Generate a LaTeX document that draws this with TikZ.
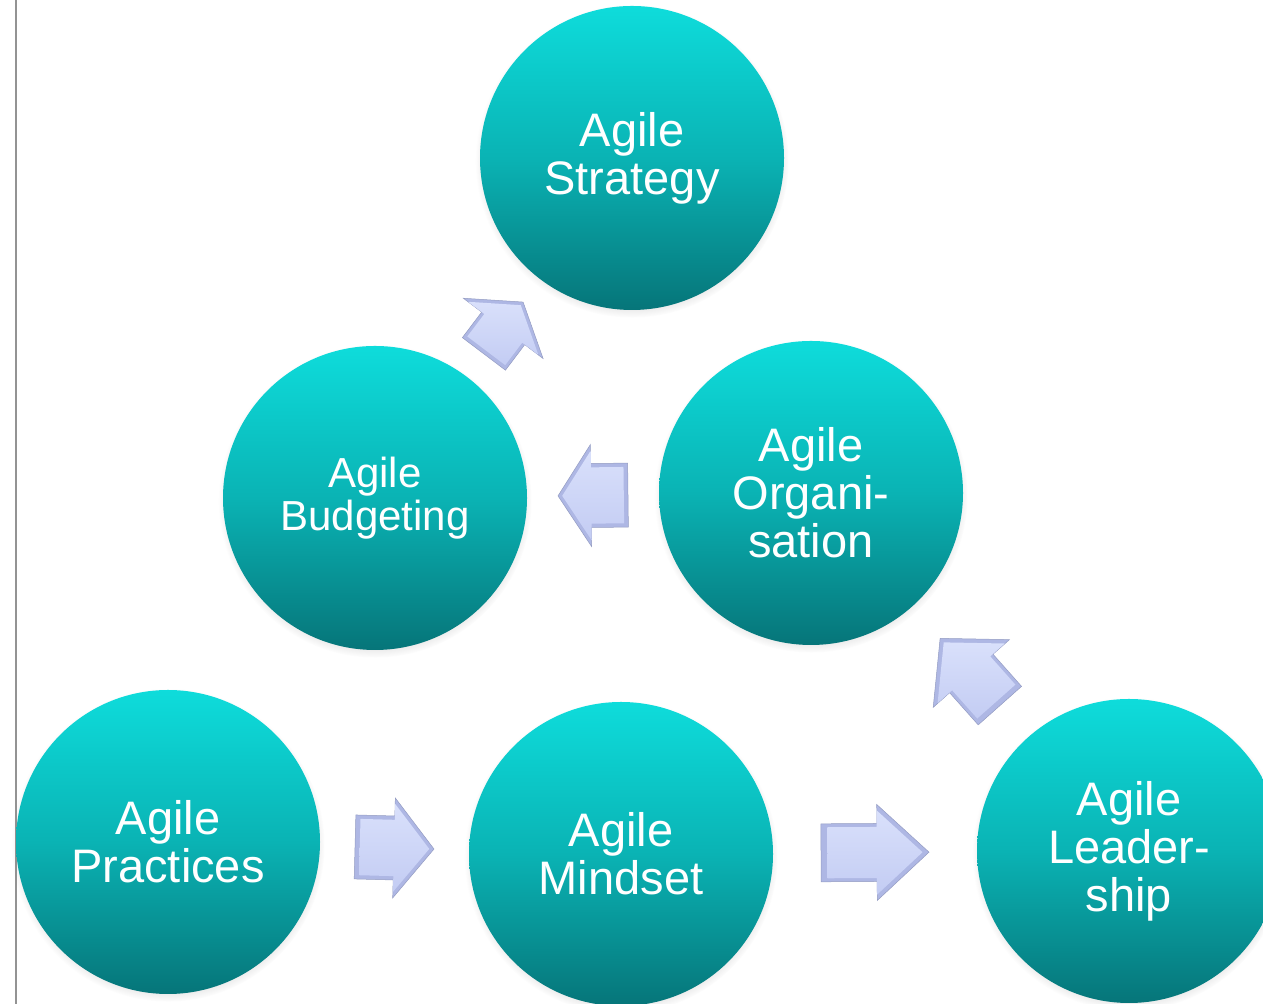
\documentclass[tikz,border=0pt]{standalone}
\usepackage{fontspec}
\setmainfont{Liberation Sans}
\usetikzlibrary{shadows}
\definecolor{tealTop}{HTML}{0EDCDB}
\definecolor{tealMid}{HTML}{0AB3B4}
\definecolor{tealBot}{HTML}{067579}
\definecolor{arrowEdge}{HTML}{AEB7E4}
\definecolor{arrowFace}{HTML}{C3CCF3}
\definecolor{arrowLight}{HTML}{D9E0FB}
\tikzset{
  nodeAll/.style={circle, minimum size=152pt, inner sep=0pt, align=center, text=white,
    top color=tealTop, bottom color=tealBot, middle color=tealMid,
    circular drop shadow={shadow scale=1.03, shadow xshift=0pt, shadow yshift=-1.5pt, opacity=0.4}},
  nodeBig/.style={font=\fontsize{23.5}{24}\selectfont},
  nodeSmall/.style={font=\fontsize{21}{21.5}\selectfont},
  arrowBevel/.style={draw=arrowEdge!85!black, line width=0.25pt, fill=arrowEdge},
  arrowFace/.style={top color=arrowLight, bottom color=arrowFace},
  % block arrow: length, head length, half body width, half head width
  pics/flowArrow/.style n args={4}{code={
    \path[arrowBevel] ({-#1/2},{-#3}) -- ({#1/2-#2},{-#3}) -- ({#1/2-#2},{-#4}) -- ({#1/2},0)
      -- ({#1/2-#2},{#4}) -- ({#1/2-#2},{#3}) -- ({-#1/2},{#3}) -- cycle;
    \path[arrowFace, scale=0.88] ({-#1/2},{-#3}) -- ({#1/2-#2},{-#3}) -- ({#1/2-#2},{-#4}) -- ({#1/2},0)
      -- ({#1/2-#2},{#4}) -- ({#1/2-#2},{#3}) -- ({-#1/2},{#3}) -- cycle;
  }}
}

\begin{document}
\begin{tikzpicture}[x=0.5pt, y=0.5pt]
  \useasboundingbox (0,0) rectangle (1263,1004);
  \draw[gray!85, line width=1pt] (16,0) -- (16,1004);

  \node[nodeAll, nodeBig] (strategy) at (632,846) {Agile\\Strategy};
  \node[nodeAll, nodeSmall] (budgeting) at (375,506) {Agile\\Budgeting};
  \node[nodeAll, nodeBig] (organisation) at (811,511) {Agile\\Organi-\\sation};
  \node[nodeAll, nodeBig] (practices) at (168,162) {Agile\\Practices};
  \node[nodeAll, nodeBig] (mindset) at (621,150) {Agile\\Mindset};
  \node[nodeAll, nodeBig] (leadership) at (1129,153) {Agile\\Leader-\\ship};

  \path (practices) -- pic[pos=0.5, sloped, allow upside down] {flowArrow={79}{40}{32}{50}} (mindset);
  \path (mindset) -- pic[pos=0.5, sloped, allow upside down] {flowArrow={108}{52}{29}{48}} (leadership);
  \path (leadership) -- pic[pos=0.5, sloped, allow upside down] {flowArrow={90}{47}{29}{51}} (organisation);
  \path (organisation) -- pic[pos=0.5, sloped, allow upside down] {flowArrow={70}{33}{32}{51}} (budgeting);
  \path (budgeting) -- pic[pos=0.5, sloped, allow upside down] {flowArrow={65}{33}{27}{50}} (strategy);
\end{tikzpicture}
\end{document}
